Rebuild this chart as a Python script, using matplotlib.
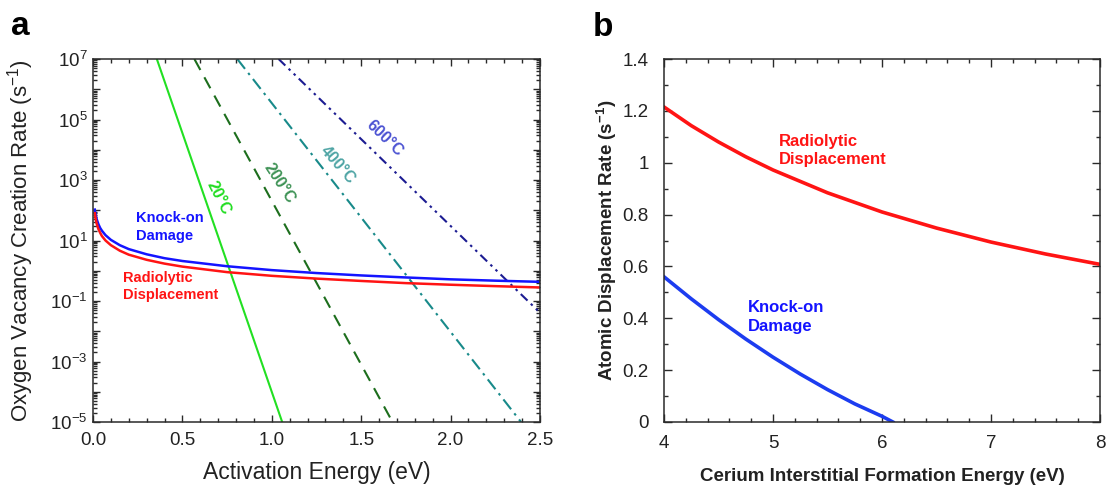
import matplotlib
matplotlib.use("Agg")
import matplotlib.pyplot as plt
from matplotlib.ticker import MultipleLocator, LogLocator, FuncFormatter, NullFormatter, FixedLocator
import numpy as np

plt.rcParams['font.family'] = ['Liberation Sans', 'DejaVu Sans']
plt.rcParams['mathtext.fontset'] = 'custom'
plt.rcParams['mathtext.rm'] = 'Liberation Sans'
plt.rcParams['mathtext.it'] = 'Liberation Sans:italic'
plt.rcParams['mathtext.bf'] = 'Liberation Sans:bold'
plt.rcParams['mathtext.default'] = 'regular'

# ---- panel a: oxygen vacancy creation rate vs activation energy ----
energy_a = [0.01, 0.015, 0.02, 0.03, 0.04, 0.05, 0.07, 0.1, 0.15, 0.2, 0.3,
            0.4, 0.5, 0.75, 1.0, 1.25, 1.5, 1.75, 2.0, 2.25, 2.5]
knockon_a = [105, 70, 52, 35, 26, 21, 15, 10.5, 7.0, 5.2, 3.5,
             2.6, 2.1, 1.41, 1.05, 0.84, 0.70, 0.60, 0.52, 0.47, 0.43]
radiolytic_a = [80, 52, 37, 24, 18, 14, 10, 7.0, 4.6, 3.4, 2.3,
                1.72, 1.37, 0.90, 0.68, 0.55, 0.46, 0.39, 0.345, 0.31, 0.28]

# thermal (Arrhenius) rates: end points of each straight line on the log axis
thermal_20C_E = [0.357, 1.058]
thermal_20C_rate = [1e7, 1e-5]
thermal_200C_E = [0.567, 1.675]
thermal_200C_rate = [1e7, 1e-5]
thermal_400C_E = [0.807, 2.394]
thermal_400C_rate = [1e7, 1e-5]
thermal_600C_E = [1.038, 2.5]
thermal_600C_rate = [1e7, 0.041]

# ---- panel b: atomic displacement rate vs Ce interstitial formation energy ----
energy_b_rad = [4.0, 4.25, 4.5, 4.75, 5.0, 5.5, 6.0, 6.5, 7.0, 7.5, 8.0]
radiolytic_b = [1.215, 1.143, 1.08, 1.023, 0.972, 0.884, 0.81, 0.748, 0.694, 0.648, 0.608]
energy_b_ko = [4.0, 4.25, 4.5, 4.75, 5.0, 5.25, 5.5, 5.75, 6.0, 6.1]
knockon_b = [0.56, 0.475, 0.395, 0.32, 0.25, 0.185, 0.125, 0.07, 0.022, 0.0]

y_ticks_b = [0, 0.2, 0.4, 0.6, 0.8, 1.0, 1.2, 1.4]
y_ticklabels_b = ['0', '0.2', '0.4', '0.6', '0.8', '1', '1.2', '1.4']

fig = plt.figure(figsize=(11.07, 4.91), dpi=100)
W, H = 1107, 491
axa = fig.add_axes([93 / W, (H - 422) / H, 447 / W, 363 / H])
axb = fig.add_axes([664 / W, (H - 422) / H, 436 / W, 363 / H])

spine_col = '#2a2a2a'
text_col = '#222222'

def style_ticks(ax, major_len, minor_len):
    ax.tick_params(which='both', direction='in', top=True, right=True,
                   color=spine_col, width=1.0, labelcolor=text_col)
    ax.tick_params(which='major', length=major_len)
    ax.tick_params(which='minor', length=minor_len)
    for s in ax.spines.values():
        s.set_color(spine_col)
        s.set_linewidth(1.1)

# ---------------- panel a ----------------
axa.set_yscale('log')
axa.plot(thermal_20C_E, thermal_20C_rate, color='#22e022', lw=1.5, ls='-')
axa.plot(thermal_200C_E, thermal_200C_rate, color='#1d6e1d', lw=1.5, ls=(0, (6, 4)))
axa.plot(thermal_400C_E, thermal_400C_rate, color='#188a8a', lw=1.5, ls=(0, (6, 2.5, 1.2, 2.5)))
axa.plot(thermal_600C_E, thermal_600C_rate, color='#1c1c92', lw=1.5,
         ls=(0, (4.5, 2.2, 1.2, 2.2, 1.2, 2.2)))
axa.plot(energy_a, knockon_a, color='#1414ff', lw=1.8)
axa.plot(energy_a, radiolytic_a, color='#ff1414', lw=1.8)

axa.set_xlim(0, 2.5)
axa.set_ylim(1e-5, 1e7)
axa.xaxis.set_major_locator(MultipleLocator(0.5))
axa.xaxis.set_minor_locator(MultipleLocator(0.1))
axa.xaxis.set_major_formatter(FuncFormatter(lambda v, p: f'{v:.1f}'))
axa.yaxis.set_major_locator(LogLocator(base=10, numticks=20))
axa.yaxis.set_minor_locator(LogLocator(base=10, subs=np.arange(2, 10), numticks=20))
axa.yaxis.set_minor_formatter(NullFormatter())

def odd_decades(v, p):
    e = int(round(np.log10(v)))
    return f'$10^{{{e}}}$' if e % 2 != 0 else ''

axa.yaxis.set_major_formatter(FuncFormatter(odd_decades))
style_ticks(axa, 5.0, 2.6)
axa.tick_params(labelsize=13.5)
axa.tick_params(axis='x', which='major', pad=7)
axa.tick_params(axis='y', which='major', pad=4)

axa.set_xlabel('Activation Energy (eV)', fontsize=16.5, color=text_col, va='center')
axa.xaxis.set_label_coords(0.5, -0.14)
axa.set_ylabel('Oxygen Vacancy Creation Rate (s$^{-1}$)', fontsize=16,
               color=text_col, va='center')
axa.yaxis.set_label_coords(-0.162, 0.5)

axa.text(0.239, 10 ** 1.45, 'Knock-on\nDamage', color='#1414ff', fontsize=10.5,
         fontweight='bold', ha='left', va='center', linespacing=1.3)
axa.text(0.168, 10 ** -0.515, 'Radiolytic\nDisplacement', color='#ff1414', fontsize=10.5,
         fontweight='bold', ha='left', va='center', linespacing=1.3)

axa.text(0.70, 10 ** 2.40, '20°C', color='#22dd22', fontsize=11.5, fontweight='bold',
         rotation=-63, ha='center', va='center')
axa.text(1.04, 10 ** 2.89, '200°C', color='#3f9356', fontsize=11.5, fontweight='bold',
         rotation=-57, ha='center', va='center')
axa.text(1.37, 10 ** 3.50, '400°C', color='#4fa5a5', fontsize=11.5, fontweight='bold',
         rotation=-49, ha='center', va='center')
axa.text(1.63, 10 ** 4.38, '600°C', color='#4b52d2', fontsize=11.5, fontweight='bold',
         rotation=-44, ha='center', va='center')

# ---------------- panel b ----------------
axb.plot(energy_b_rad, radiolytic_b, color='#ff1414', lw=2.6)
axb.plot(energy_b_ko, knockon_b, color='#1c3cf0', lw=2.6)
axb.set_xlim(4, 8)
axb.set_ylim(0, 1.4)
axb.xaxis.set_major_locator(MultipleLocator(1))
axb.xaxis.set_minor_locator(MultipleLocator(0.2))
axb.yaxis.set_major_locator(FixedLocator(y_ticks_b))
axb.set_yticklabels(y_ticklabels_b)
axb.yaxis.set_minor_locator(MultipleLocator(0.1))
style_ticks(axb, 5.5, 3.0)
axb.tick_params(labelsize=13.5)
axb.tick_params(axis='x', which='major', pad=9)
axb.tick_params(axis='y', which='major', pad=11)

axb.set_xlabel('Cerium Interstitial Formation Energy (eV)', fontsize=13.5,
               fontweight='bold', color=text_col, va='center')
axb.xaxis.set_label_coords(0.5, -0.15)
axb.set_ylabel('Atomic Displacement Rate (s$^{-1}$)', fontsize=13.5,
               fontweight='bold', color=text_col, va='center')
axb.yaxis.set_label_coords(-0.131, 0.5)

axb.text(5.055, 1.047, 'Radiolytic\nDisplacement', color='#ff1414', fontsize=12,
         fontweight='bold', ha='left', va='center', linespacing=1.3)
axb.text(4.77, 0.406, 'Knock-on\nDamage', color='#1414ff', fontsize=12,
         fontweight='bold', ha='left', va='center', linespacing=1.3)

fig.text(11 / W, (H - 35) / H, 'a', fontsize=24, fontweight='bold', color='black',
         ha='left', va='baseline')
fig.text(593 / W, (H - 36) / H, 'b', fontsize=24, fontweight='bold', color='black',
         ha='left', va='baseline')

fig.savefig('out.png', dpi=100)
